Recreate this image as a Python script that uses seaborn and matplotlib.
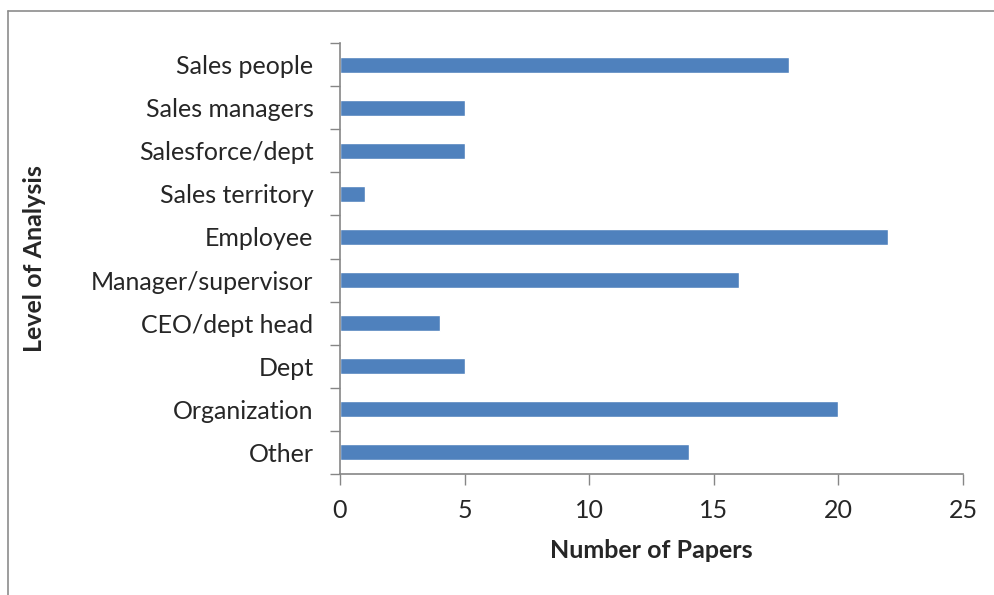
import matplotlib
matplotlib.use("Agg")
import matplotlib.pyplot as plt
import seaborn as sns
import pandas as pd
import numpy as np
from matplotlib.lines import Line2D

categories = ["Sales people", "Sales managers", "Salesforce/dept", "Sales territory",
              "Employee", "Manager/supervisor", "CEO/dept head", "Dept",
              "Organization", "Other"]
papers = [18, 5, 5, 1, 22, 16, 4, 5, 20, 14]
x_ticks = [0, 5, 10, 15, 20, 25]

sns.set_theme(style="white")
plt.rcParams['font.family'] = ['Lato', 'DejaVu Sans']

df = pd.DataFrame({"Level": categories, "Papers": papers})

fig = plt.figure(figsize=(9.95, 5.95), dpi=100)
ax = fig.add_axes([340/995, 1 - 474/595, (963 - 340)/995, (474 - 43)/595])

sns.barplot(data=df, y="Level", x="Papers", orient="h", color="#4F81BD",
            width=0.37, ax=ax, saturation=1, order=categories)

ax.set_xlim(0, 25)
ax.set_ylim(len(categories) - 0.5, -0.5)
ax.set_xticks(x_ticks)
ax.set_xticklabels([str(t) for t in x_ticks], fontsize=18)
ax.tick_params(axis='x', which='major', direction='out', length=8, width=1,
               color='#868686', pad=10, bottom=True)
ax.tick_params(axis='y', which='major', length=0, pad=19, labelsize=18)
ax.set_yticks(np.arange(-0.5, len(categories), 1), minor=True)
ax.tick_params(axis='y', which='minor', direction='out', length=7, width=1,
               color='#868686', left=True)

for s in ["top", "right"]:
    ax.spines[s].set_visible(False)
for s in ["left", "bottom"]:
    ax.spines[s].set_color("#868686")
    ax.spines[s].set_linewidth(1.2)

ax.set_xlabel("Number of Papers", fontsize=18, fontweight="bold", labelpad=12)
ax.set_ylabel("Level of Analysis", fontsize=18, fontweight="bold")
ax.yaxis.set_label_coords(-0.472, 0.5)

# outer chart border
fig.add_artist(Line2D([8/995, 8/995], [0, 1 - 11/595], transform=fig.transFigure,
                      color="#8c8c8c", linewidth=1.2))
fig.add_artist(Line2D([8/995, 994/995], [1 - 11/595, 1 - 11/595], transform=fig.transFigure,
                      color="#8c8c8c", linewidth=1.2))

fig.savefig("out.png", dpi=100)
